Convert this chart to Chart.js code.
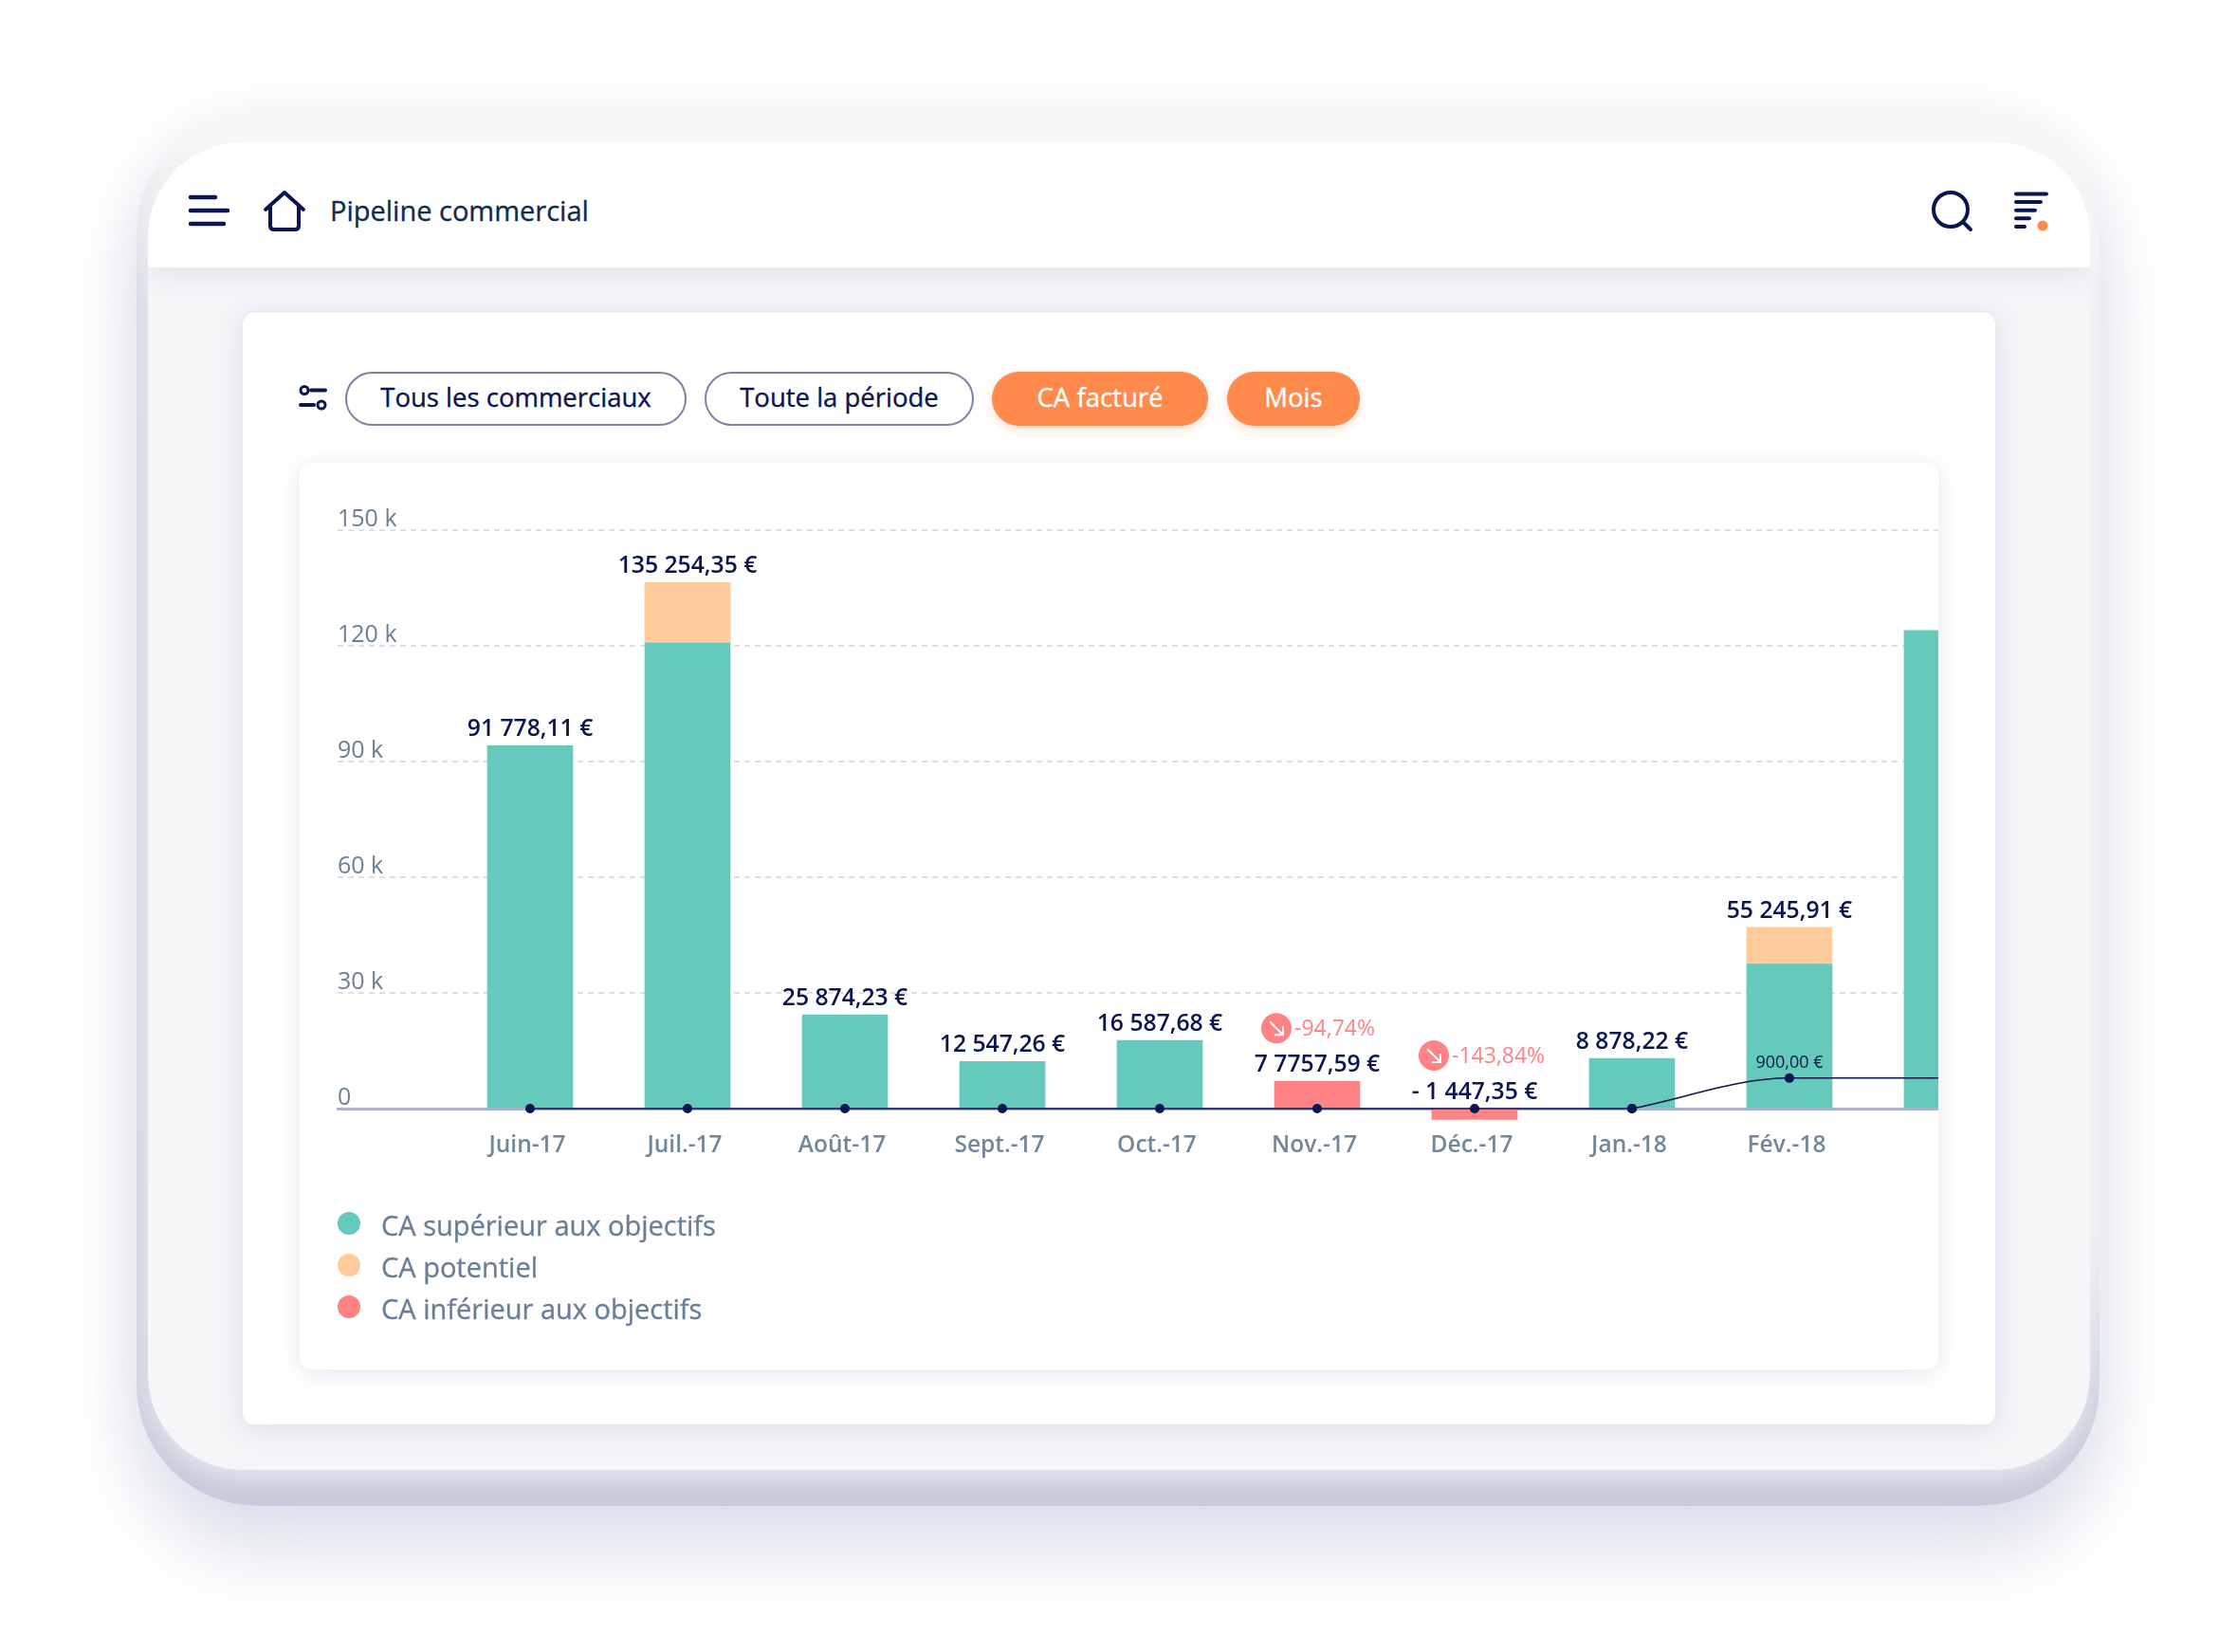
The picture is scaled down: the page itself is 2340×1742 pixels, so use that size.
<!DOCTYPE html>
<html lang="fr">
<head>
<meta charset="utf-8">
<title>Pipeline commercial</title>
<script src="https://cdn.jsdelivr.net/npm/chart.js@4"></script>
<style>
html, body { margin: 0; padding: 0; background: #fff; }
body { width: 2340px; height: 1742px; position: relative; overflow: hidden; font-family: "Open Sans", sans-serif; }
.device { position: absolute; left: 144px; top: 118px; width: 2070px; height: 1470px; border-radius: 127px;
  background:
    linear-gradient(to bottom, #f7f7f7 0, #f7f7f7 3%, #eeeef2 14%, #eeeef2 80%, rgba(238, 238, 242, 0) 92%) right top / 60px 100% no-repeat,
    linear-gradient(to bottom, #f7f7f7 0, #f7f7f7 2%, #d8dae6 14%, #d4d7e4 85%, #c9cbdc 100%);
  box-shadow: 0 50px 80px rgba(160, 170, 200, .34), 0 0 60px rgba(170, 178, 205, .14); }
.screen { position: absolute; left: 156px; top: 150px; width: 2048px; height: 1400px; border-radius: 100px; background: #f5f6f8; overflow: hidden; }
.screen-glow { position: absolute; left: 156px; top: 150px; width: 2048px; height: 1400px; border-radius: 100px; box-shadow: 0 10px 20px rgba(255, 255, 255, .45); }
.header { position: absolute; left: 0; top: 0; width: 100%; height: 132px; background: #fff; box-shadow: 0 6px 26px rgba(120, 130, 165, .16); }
.header .title { position: absolute; left: 192px; top: 52px; font-size: 29px; font-weight: 400; -webkit-text-stroke: .35px #0e2c52; color: #0e2c52; line-height: 40px; white-space: nowrap; }
.card { position: absolute; left: 256px; top: 330px; width: 1848px; height: 1172px; background: #fff; border-radius: 12px; box-shadow: 0 4px 30px rgba(120, 130, 165, .2); }
.pill { position: absolute; top: 392px; height: 57px; line-height: 49px; box-sizing: border-box; border-radius: 29px; text-align: center; font-size: 27.5px; font-weight: 400; -webkit-text-stroke: .35px currentColor; }
.pill.outline { border: 2px solid #7c82a6; color: #0a1551; background: #fff; }
.pill.active { background: #ff8a4c; color: #fff; box-shadow: 0 4px 12px rgba(255, 138, 76, .25); line-height: 53px; }
.panel { position: absolute; left: 316px; top: 488px; width: 1728px; height: 956px; background: #fff; border-radius: 12px; box-shadow: 0 4px 24px rgba(120, 130, 165, .2); overflow: hidden; }
.legend { position: absolute; left: 356px; top: 1268px; }
.legend div { position: relative; height: 44px; line-height: 47px; padding-left: 46px; font-size: 29px; font-weight: 400; -webkit-text-stroke: .35px #6a7f95; color: #6a7f95; white-space: nowrap; }
.legend i { position: absolute; left: 0; top: 10px; width: 24px; height: 24px; border-radius: 50%; }
svg.icon { position: absolute; overflow: visible; }
</style>
</head>
<body>
<div class="device"></div>
<div class="screen-glow"></div>
<div class="screen"><div class="header"><div class="title">Pipeline commercial</div></div></div>

<svg class="icon" style="left:0;top:0" width="2340" height="400" fill="none" stroke="#0a1551" stroke-width="4" stroke-linecap="round" stroke-linejoin="round">
  <path d="M201 208h26M201 222h39M201 236h35" stroke-width="4.5"/>
  <path d="M280 221l20-18 20 18M285 218v20q0 4 4 4h22q4 0 4-4v-20"/>
  <circle cx="2057" cy="221" r="18"/><path d="M2071 235l7 7"/>
  <path d="M2126 204.5h32M2126 213h26M2126 221.7h20M2126 230.3h14M2126 239h9"/>
  <circle cx="2154" cy="238" r="5.5" fill="#ff8a4c" stroke="none"/>
</svg>

<div class="card"></div>
<svg class="icon" style="left:0;top:0" width="400" height="450" fill="none" stroke="#0a1551" stroke-width="4" stroke-linecap="round">
  <circle cx="321" cy="411.5" r="4" stroke-width="3"/><path d="M328 411.5h15M317 427h14"/><circle cx="339" cy="427" r="4" stroke-width="3"/>
</svg>
<div class="pill outline" style="left:364px;width:360px">Tous les commerciaux</div>
<div class="pill outline" style="left:743px;width:284px">Toute la période</div>
<div class="pill active" style="left:1046px;width:228px">CA facturé</div>
<div class="pill active" style="left:1294px;width:140px">Mois</div>

<div class="panel"><canvas id="chart"></canvas></div>
<div class="legend" id="legend"></div>

<script>
const months = ['Juin-17', 'Juil.-17', 'Août-17', 'Sept.-17', 'Oct.-17', 'Nov.-17', 'Déc.-17', 'Jan.-18', 'Fév.-18'];
const barLabels = ['91 778,11 €', '135 254,35 €', '25 874,23 €', '12 547,26 €', '16 587,68 €', '7 7757,59 €', '- 1 447,35 €', '8 878,22 €', '55 245,91 €'];

// the last bar runs off the right edge, it has no label
const caSuperieur = [94100, 120700, 24300, 12200, 17700, null, null, 13000, 37500, 124000];
const caPotentiel = [null, 15700, null, null, null, null, null, null, 9500, null];
const caInferieur = [null, null, null, null, null, 7060, -2800, null, null, null];
const objectif = [0, 0, 0, 0, 0, 0, 0, 0, 7900, 7900];
const objectifLabel = '900,00 €';

const variations = ['', '', '', '', '', '-94,74%', '-143,84%', '', ''];
const yTicks = { 150000: '150 k', 120000: '120 k', 90000: '90 k', 60000: '60 k', 30000: '30 k', 0: '0' };

const legendNames = ['CA supérieur aux objectifs', 'CA potentiel', 'CA inférieur aux objectifs'];
const TEAL = '#65c9bc', PEACH = '#ffcb9b', RED = '#ff8285', NAVY = '#0a1551', GREY = '#6b7f94';

document.getElementById('legend').innerHTML = legendNames.map((name, i) =>
    `<div><i style="background:${[TEAL, PEACH, RED][i]}"></i>${name}</div>`).join('');

function points(values, start) {
    return values.map((v, i) => ({ x: i + (start || 0), y: v }));
}

// stack totals, value labels and the red variation badges
const labelsPlugin = {
    id: 'barTexts',
    afterDatasetsDraw(chart) {
        const ctx = chart.ctx, xs = chart.scales.x, ys = chart.scales.y;
        ctx.save();
        ctx.textAlign = 'center';
        ctx.textBaseline = 'alphabetic';
        barLabels.forEach((text, i) => {
            const total = (caSuperieur[i] || 0) + (caPotentiel[i] || 0) + (caInferieur[i] || 0);
            const x = xs.getPixelForValue(i);
            const y = ys.getPixelForValue(Math.max(total, 0)) - 10;
            ctx.font = '600 24.7px "Open Sans"';
            ctx.fillStyle = NAVY;
            ctx.fillText(text, x, y);

            if (variations[i]) {
                const cy = y - 46;
                const cx = x - 43;
                ctx.fillStyle = RED;
                ctx.beginPath();
                ctx.arc(cx, cy, 16, 0, Math.PI * 2);
                ctx.fill();
                ctx.strokeStyle = '#fff';
                ctx.lineWidth = 2;
                ctx.beginPath();
                ctx.moveTo(cx - 7, cy - 7);
                ctx.lineTo(cx + 7, cy + 7);
                ctx.moveTo(cx + 7, cy - 2);
                ctx.lineTo(cx + 7, cy + 7);
                ctx.lineTo(cx - 2, cy + 7);
                ctx.stroke();
                ctx.font = '23px "Open Sans"';
                ctx.textAlign = 'left';
                ctx.fillText(variations[i], cx + 19, cy + 8);
                ctx.textAlign = 'center';
            }
        });
        ctx.font = '18px "Open Sans"';
        ctx.fillStyle = NAVY;
        ctx.fillText(objectifLabel, xs.getPixelForValue(8), ys.getPixelForValue(objectif[8]) - 11);
        ctx.restore();
    }
};

new Chart(document.getElementById('chart'), {
    data: {
        datasets: [
            { type: 'line', data: points(objectif.slice(0, 8)), order: 0, borderColor: NAVY, borderWidth: 1.5,
              pointRadius: 5, pointBackgroundColor: NAVY, pointBorderWidth: 0 },
            { type: 'line', data: points(objectif.slice(7), 7), order: 0, borderColor: NAVY, borderWidth: 1.5,
              cubicInterpolationMode: 'monotone', pointRadius: 5, pointBackgroundColor: NAVY, pointBorderWidth: 0 },
            { type: 'bar', label: legendNames[0], data: points(caSuperieur), backgroundColor: TEAL, stack: 'ca', barThickness: 90, order: 1 },
            { type: 'bar', label: legendNames[1], data: points(caPotentiel), backgroundColor: PEACH, stack: 'ca', barThickness: 90, order: 1 },
            { type: 'bar', label: legendNames[2], data: points(caInferieur), backgroundColor: RED, stack: 'ca', barThickness: 90, order: 1 }
        ]
    },
    options: {
        responsive: true,
        maintainAspectRatio: false,
        animation: false,
        layout: { autoPadding: false, padding: { left: 40, right: 0, top: 71, bottom: 153 } },
        plugins: { legend: { display: false }, tooltip: { enabled: false } },
        scales: {
            x: {
                type: 'linear',
                position: { y: 0 },
                offset: false,
                min: -1.223,
                max: 8.946,
                z: 1,
                afterBuildTicks: axis => { axis.ticks = axis.ticks.filter(t => months[t.value]); },
                grid: { display: false },
                border: { color: '#aeb1ca', width: 3 },
                ticks: {
                    stepSize: 1,
                    includeBounds: false,
                    autoSkip: false,
                    maxRotation: 0,
                    padding: 16,
                    labelOffset: -3,
                    color: '#73879b',
                    font: { family: 'Open Sans', size: 24.5, weight: 600 },
                    callback: v => months[v] || ''
                }
            },
            y: {
                min: -30000,
                max: 150000,
                afterBuildTicks: axis => { axis.ticks = axis.ticks.filter(t => t.value >= 0); },
                grid: {
                    color: c => c.tick && c.tick.value > 0 ? '#dcdeea' : 'transparent',
                    lineWidth: 2,
                    drawTicks: false
                },
                border: { display: false, dash: [6, 5] },
                ticks: {
                    stepSize: 30000,
                    mirror: true,
                    padding: 0,
                    labelOffset: -11,
                    color: GREY,
                    font: { family: 'Open Sans', size: 25, weight: 400 },
                    callback: v => yTicks[v]
                }
            }
        }
    },
    plugins: [labelsPlugin]
});
</script>
</body>
</html>
